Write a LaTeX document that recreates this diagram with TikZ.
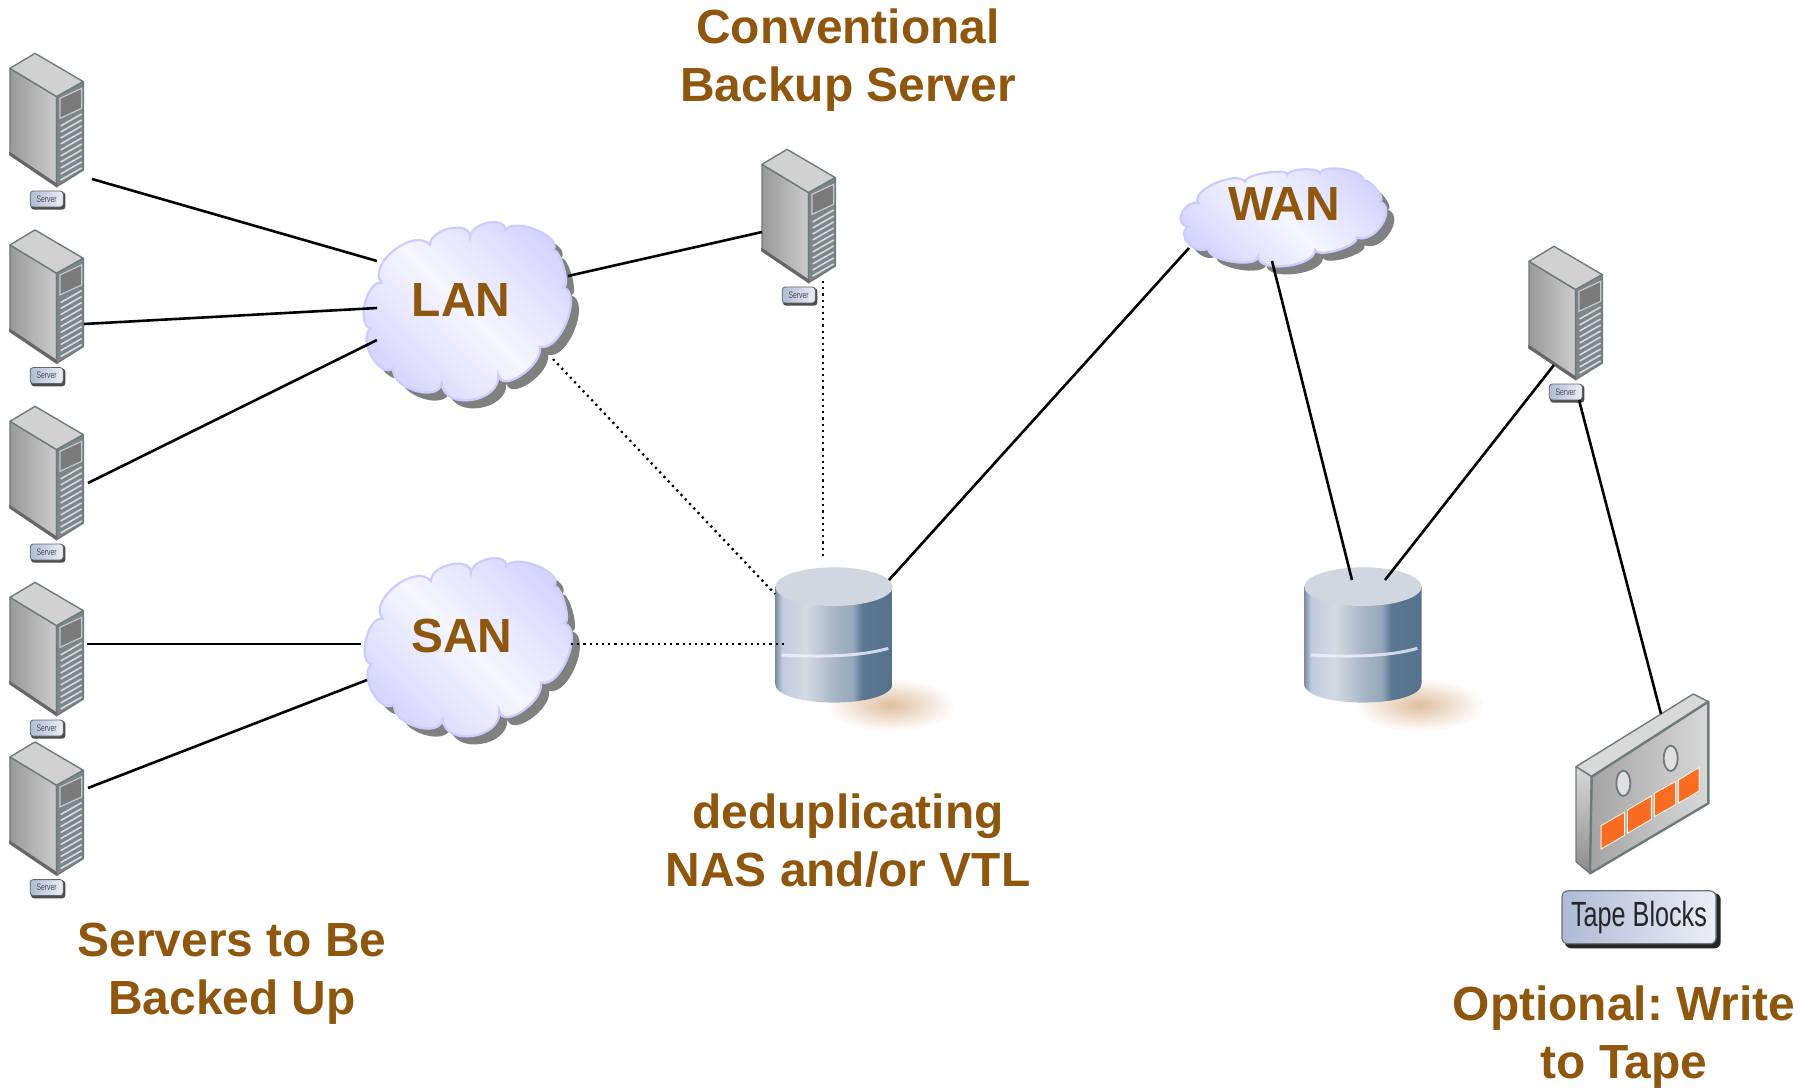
\documentclass[tikz,border=0pt]{standalone}
\usepackage{fontspec}
\setmainfont{Liberation Sans}
\newfontfamily\narrowlab[FakeStretch=0.72]{Liberation Sans}
\usetikzlibrary{calc}
\frenchspacing
\definecolor{brownlab}{HTML}{8F560E}
\definecolor{cloudedge}{HTML}{CCCCFF}
\definecolor{cloudmid}{HTML}{F6F6FF}
\definecolor{srvedge}{HTML}{6F7A7C}
\definecolor{tagblue}{HTML}{AEBBD6}
\definecolor{taglight}{HTML}{EBEFF7}
\definecolor{tapeorange}{HTML}{F96C22}
\definecolor{disktop}{HTML}{D0D7E1}
\definecolor{diskA}{HTML}{7A8A9E}
\definecolor{diskB}{HTML}{C0CBDC}
\definecolor{diskC}{HTML}{D3DBE4}
\definecolor{diskD}{HTML}{A8B6C6}
\definecolor{diskE}{HTML}{96A8BC}
\definecolor{diskF}{HTML}{5D7792}
\definecolor{diskG}{HTML}{55718C}
\pgfdeclarehorizontalshading{diskbody}{100bp}{color(0bp)=(diskA);color(25bp)=(diskA);color(28bp)=(diskB);color(38bp)=(diskC);color(50bp)=(diskD);color(58bp)=(diskE);color(62bp)=(diskF);color(75bp)=(diskG);color(100bp)=(diskG)}
\def\cb(#1)(#2)(#3){.. controls ($0.3333*(#1)+1.3333*(#2)-0.6667*(#3)$) and ($-0.6667*(#1)+1.3333*(#2)+0.3333*(#3)$) .. (#3)}
\def\lanpath{(125,248) \cb(125,248)(163,150)(270,135) \cb(270,135)(330,85)(390,110) \cb(390,110)(445,68)(495,90) \cb(495,90)(590,90)(640,150) \cb(640,150)(672,205)(670,262) \cb(670,262)(680,365)(600,440) \cb(600,440)(545,525)(475,525) \cb(475,525)(395,600)(305,550) \cb(305,550)(225,572)(160,505) \cb(160,505)(95,470)(92,385) \cb(92,385)(75,310)(125,248) -- cycle}
\def\wanpath{(115,158) \cb(115,158)(165,100)(255,95) \cb(255,95)(320,68)(382,75) \cb(382,75)(430,58)(480,70) \cb(480,70)(550,58)(610,92) \cb(610,92)(650,118)(660,155) \cb(660,155)(665,225)(590,262) \cb(590,262)(535,300)(465,300) \cb(465,300)(380,348)(295,320) \cb(295,320)(215,335)(145,295) \cb(145,295)(85,280)(85,230) \cb(85,230)(65,190)(115,158) -- cycle}
\tikzset{
  x=1pt,y=-1pt,
  bigtext/.style={text=brownlab,font=\fontsize{47.9}{58}\selectfont\bfseries,align=center,inner sep=0pt},
  link/.style={black,line width=2.6pt},
  dotlink/.style={black,line width=2.2pt,dash pattern=on 2.2pt off 4pt},
  cloudbody/.style={draw=cloudedge,line width=2.2pt,top color=cloudedge!85!white,bottom color=cloudedge!85!white,middle color=cloudmid,shading angle=-45},
  cloudshadow/.style={fill=black!50},
  tag/.style={draw=black!60,line width=0.8pt,rounded corners=3pt,left color=tagblue,right color=taglight,inner sep=0pt,align=center},
  srvline/.style={line join=round,draw=srvedge,line width=1.4pt},
  pics/srv/.style={code={
    \begin{scope}[scale=1/3]
      \path[srvline,left color=black!40,right color=black!20] (30,85)--(170,170)--(170,440)--(30,345)--cycle;
      \path[srvline,fill=black!18] (105,40)--(250,125)--(170,170)--(30,85)--cycle;
      \path[srvline,fill=srvedge!90] (170,170)--(250,125)--(250,390)--(170,440)--cycle;
      \path[fill=black!52,draw=black!22,line width=1.2pt] (180,175)--(245,145)--(245,205)--(180,235)--cycle;
      \foreach \v in {258,276,...,420} {\draw[black!15,line width=1.6pt] (182,\v)--(245,\v-36);}
      \path[fill=black!60] (28,345)--(170,440)--(170,430)--(28,335)--cycle;
      \fill[black!70,rounded corners=3pt] (93,456) rectangle (196,509);
      \node[tag,minimum width=33pt,minimum height=16pt,font=\narrowlab\fontsize{9.5}{10}\selectfont,text=black!70] (-tag) at (140,477) {Server};
    \end{scope}}},
  pics/disk/.style={code={
    \begin{scope}[scale=1/3]
      \shade[inner color=brown!50!white,outer color=white] (450,495) ellipse [x radius=195,y radius=80];
      \path[shading=diskbody] (105,140)--(105,430) .. controls (105,507) and (458,507) .. (458,430)--(458,140)--cycle;
      \path[fill=disktop] (282,140) ellipse [x radius=176,y radius=58];
      \draw[blue!6!white,line width=3pt,opacity=0.8] (125,345) .. controls (230,350) and (350,352) .. (445,325);
    \end{scope}}},
  pics/cloudicon/.style={code={
    \begin{scope}[scale=1/3]
      \begin{scope}[shift={(24,24)}]
        \path[cloudshadow] #1;
      \end{scope}
      \path[cloudbody] #1;
    \end{scope}}},
}
\begin{document}
\begin{tikzpicture}
\useasboundingbox (0,0) rectangle (1800,1089);
% servers
\pic (s1) at (0,40) {srv};
\pic (s2) at (0,216.6) {srv};
\pic (s3) at (0,393) {srv};
\pic (s4) at (0,569) {srv};
\pic (s5) at (0,728.6) {srv};
\pic (sb) at (752,136) {srv};
\pic (st) at (1519,233) {srv};
% clouds
\pic (lancloud) at (340,200) {cloudicon={\lanpath}};
\pic (sancloud) at (341,536) {cloudicon={\lanpath}};
\pic (wancloud) at (1160,150) {cloudicon={\wanpath}};
% disks
\pic (d1) at (740,540) {disk};
\pic (d2) at (1269,540) {disk};
% tape
\begin{scope}[shift={(1540,680)},scale=1/3]
  \path[srvline,fill=black!15] (108,260)--(460,42)--(505,65)--(155,290)--cycle;
  \path[srvline,top color=black!15,bottom color=black!45] (108,260)--(155,290)--(150,580)--(108,545)--cycle;
  \path[srvline,line width=2.4pt,left color=black!36,right color=black!15] (155,290)--(505,65)--(505,370)--(150,580)--cycle;
  \foreach \a/\b/\c/\d in {183/437/254/396,262/390/334/348,343/340/407/304,415/300/477/263}
    {\path[fill=tapeorange,draw=orange!15!white,line width=1pt] (\a,\b)--(\c,\d)--(\c,\d+70)--(\a,\b+70)--cycle;}
  \path[fill=black!12,draw=srvedge,line width=1.8pt] (250,310) ellipse [x radius=21,y radius=38];
  \path[fill=black!12,draw=srvedge,line width=1.8pt] (392,235) ellipse [x radius=21,y radius=38];
  \fill[black!85,rounded corners=6pt] (75,640) rectangle (542,805);
  \node[tag,draw=black!55,line width=1.2pt,rounded corners=6pt,minimum width=154pt,minimum height=53pt,font=\narrowlab\fontsize{35}{38}\selectfont,text=black!85] (tapetag) at (297,712) {Tape Blocks};
\end{scope}
% connector ends
\coordinate (a1) at (92,179); \coordinate (b1) at (377,261);
\coordinate (a2) at (84,324); \coordinate (b2) at (377,308);
\coordinate (a3) at (88,483); \coordinate (b3) at (377,340);
\coordinate (a4) at (87,644); \coordinate (b4) at (361,644);
\coordinate (a5) at (88,788); \coordinate (b5) at (367,680);
\coordinate (lanr) at (568,276); \coordinate (sbl) at (762,232);
\coordinate (sbb) at (823,281); \coordinate (d1t) at (823,558);
\coordinate (land) at (553,359); \coordinate (d1l) at (775,594);
\coordinate (sanr) at (571,644); \coordinate (d1m) at (787,644);
\coordinate (d1r) at (889,580); \coordinate (wanl) at (1189,248);
\coordinate (wanb) at (1272,261); \coordinate (d2a) at (1352,580);
\coordinate (d2b) at (1385,580); \coordinate (stl) at (1554,365);
\coordinate (stb) at (1579,400); \coordinate (tapet) at (1661,714);
\draw[link] (a1)--(b1);
\draw[link] (a2)--(b2);
\draw[link] (a3)--(b3);
\draw[link] (a4)--(b4);
\draw[link] (a5)--(b5);
\draw[link] (lanr)--(sbl);
\draw[dotlink] (sbb)--(d1t);
\draw[dotlink] (land)--(d1l);
\draw[dotlink] (sanr)--(d1m);
\draw[link] (d1r)--(wanl);
\draw[link] (wanb)--(d2a);
\draw[link] (d2b)--(stl);
\draw[link] (stb)--(tapet);
% labels
\node[bigtext] (lan) at (461,300) {LAN};
\node[bigtext] (san) at (462,636) {SAN};
\node[bigtext] (wan) at (1284,204) {WAN};
\node[bigtext] (conv) at (848,60.5) {Conventional\\Backup Server};
\node[bigtext] (dedup) at (848,841) {deduplicating\\NAS and/or VTL};
\node[bigtext] (tobe) at (232,973.5) {Servers to Be\\Backed Up};
\node[bigtext] (opt) at (1624,1037.5) {Optional: Write\\to Tape};
\end{tikzpicture}
\end{document}
